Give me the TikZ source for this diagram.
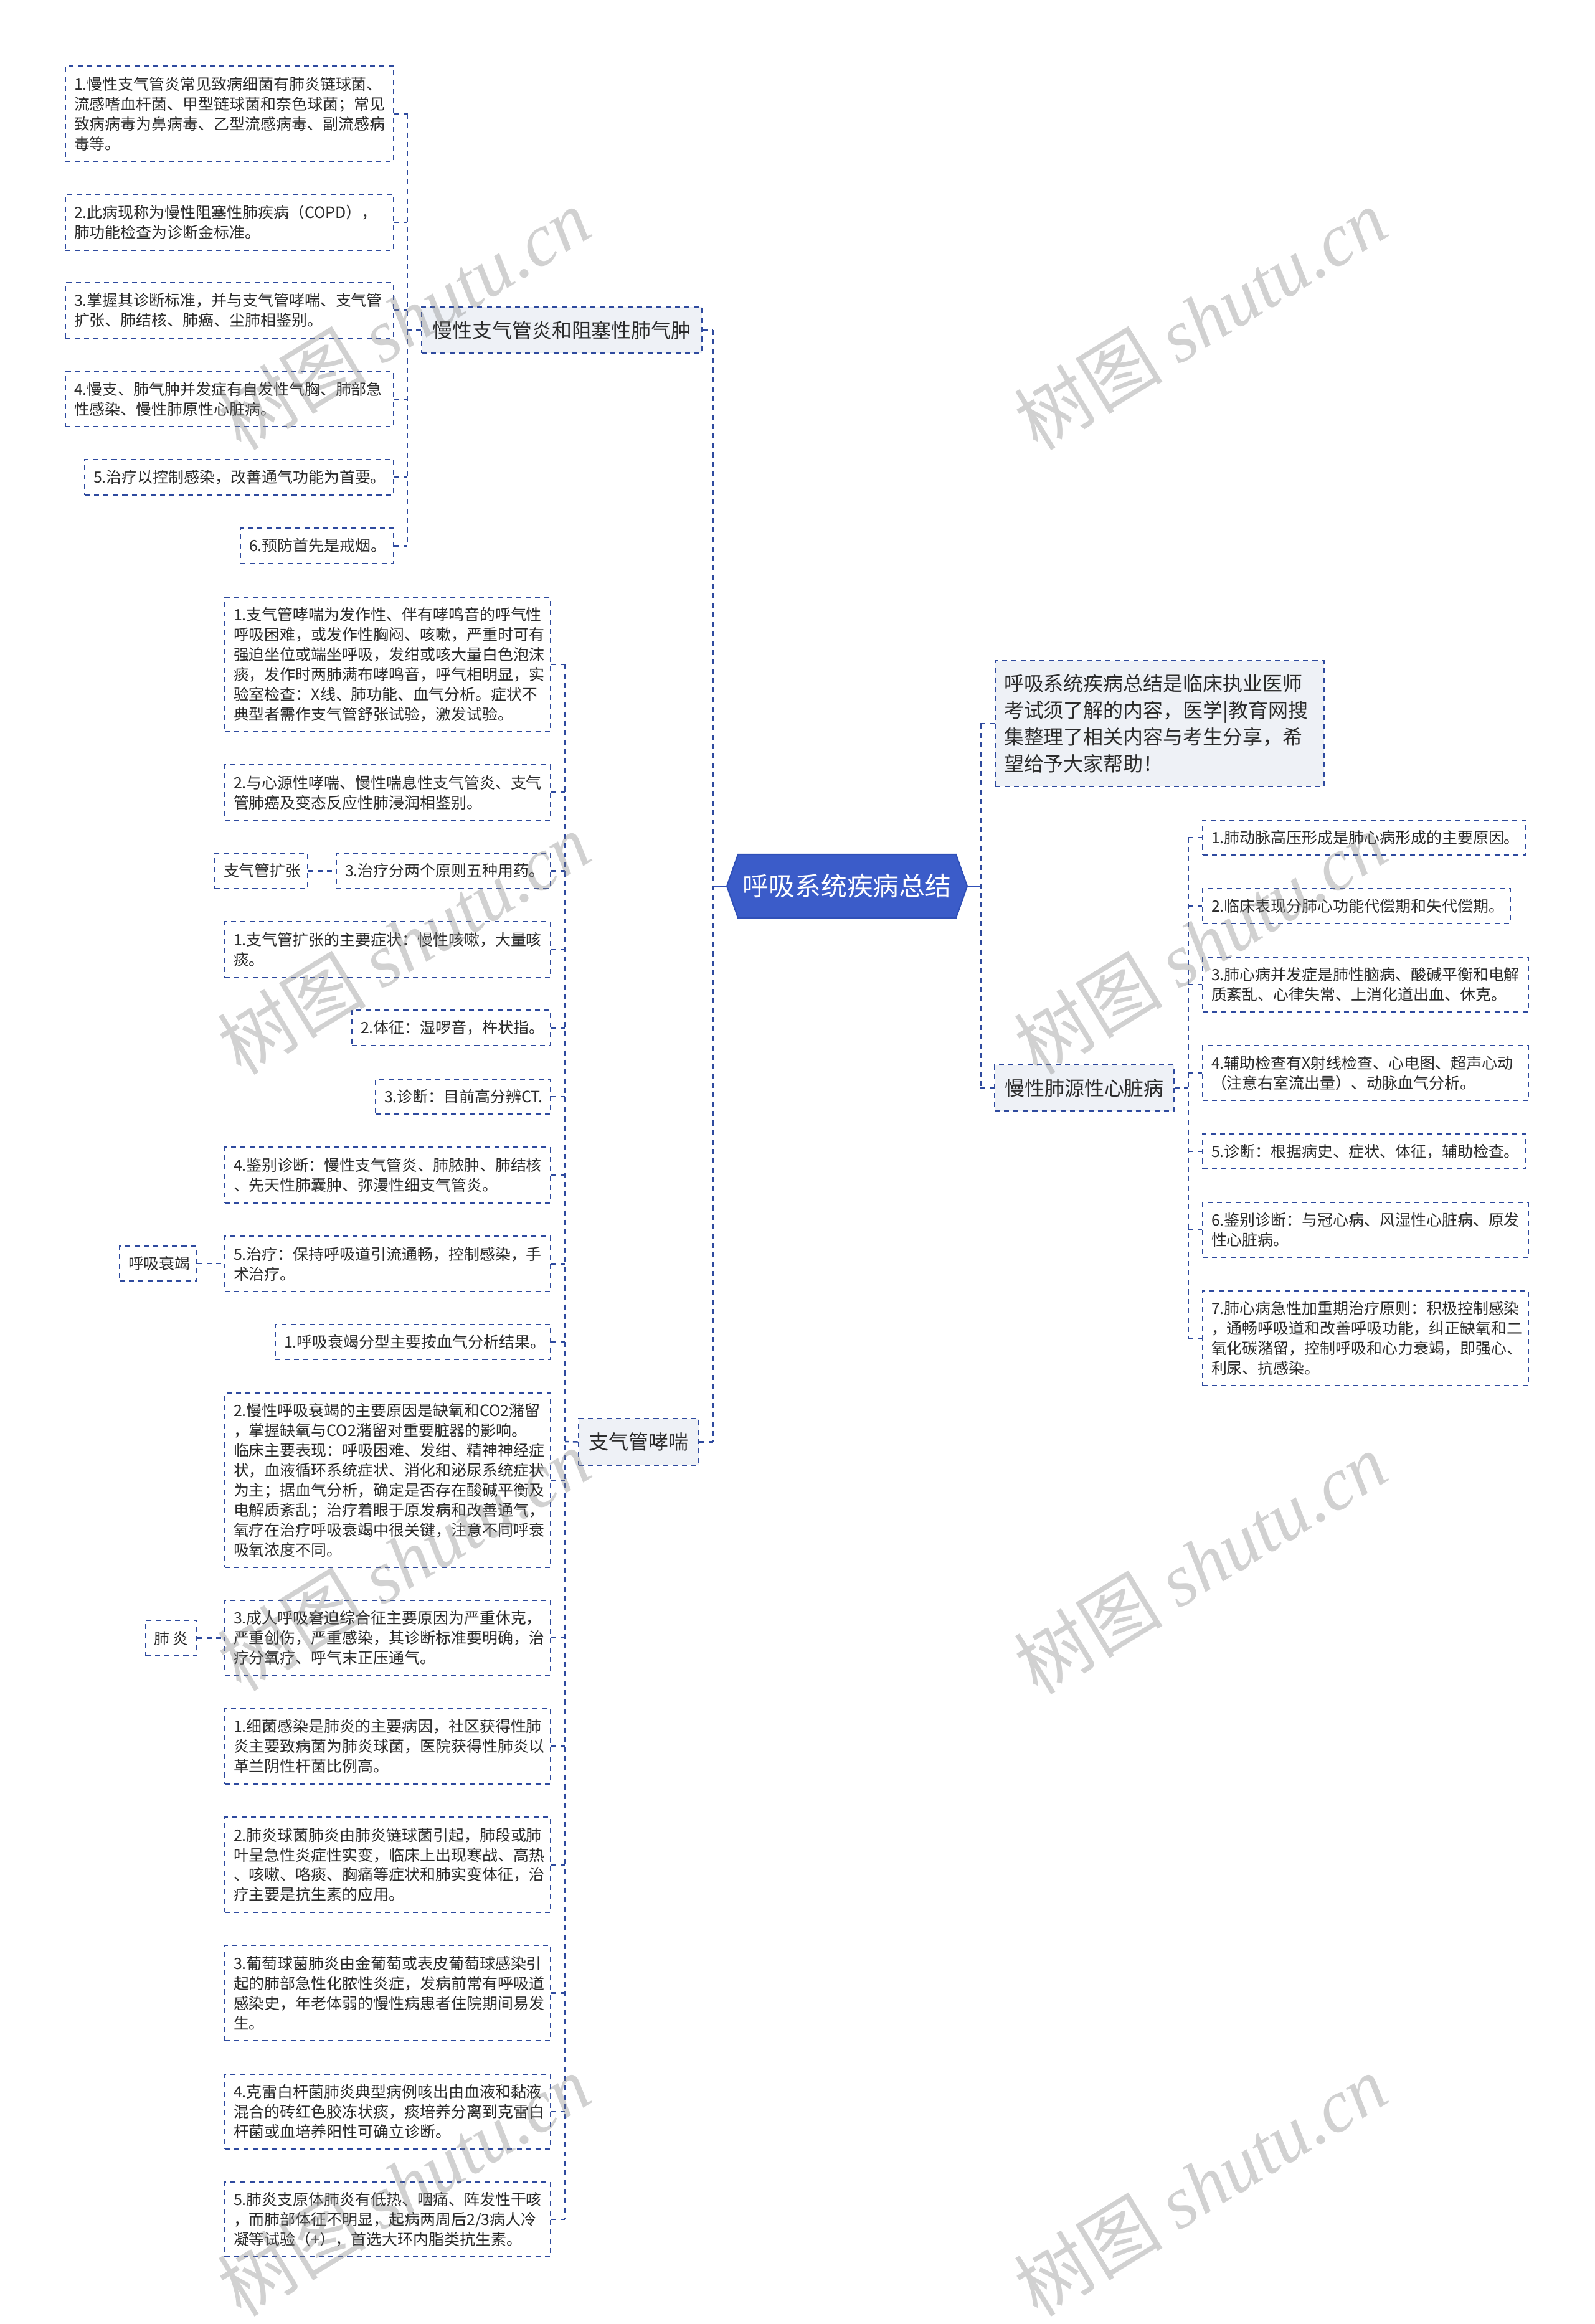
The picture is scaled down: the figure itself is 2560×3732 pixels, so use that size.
\documentclass[tikz,border=0pt]{standalone}
\usepackage{fontspec}
\newfontfamily\cjk{Noto Sans CJK SC}
\newfontfamily\wmserif{Liberation Serif}
\definecolor{ln}{HTML}{2E4A9E}
\definecolor{txt}{HTML}{2B2B2B}
\definecolor{lvl}{HTML}{EEF1F6}
\definecolor{rootfill}{HTML}{3B5CC9}
\definecolor{rootline}{HTML}{3050B8}
\tikzset{
  leaf/.style={draw=ln, dash pattern=on 2.3pt off 2pt, line width=0.55pt, align=left,
    inner xsep=1.4mm, inner ysep=0pt, text=txt, font=\cjk\fontsize{7.1pt}{9.1pt}\selectfont},
  leafc/.style={leaf, align=center},
  topic/.style={leaf, fill=lvl, align=center, font=\cjk\fontsize{9.1pt}{12.2pt}\selectfont},
  topicl/.style={topic, align=left},
  conn/.style={draw=ln, dash pattern=on 2.3pt off 2pt, line width=0.7pt},
  bus/.style={draw=ln, dash pattern=on 2.3pt off 2pt, line width=0.85pt},
  stub/.style={draw=rootline, line width=0.85pt},
  wm/.style={rotate=31.5, text=black!50, opacity=0.36, inner sep=0pt}
}
\newcommand\mybox[7]{%
  \pgfmathsetlengthmacro\myBW{(#5-#3)*0.1mm-2.8mm}%
  \pgfmathsetlengthmacro\myBH{(#6-#4)*0.1mm}%
  \node[#2,text width=\myBW,minimum height=\myBH] (#1) at ({(#3+#5)/2},{(#4+#6)/2}) {#7};}
\begin{document}
\begin{tikzpicture}[x=0.1mm,y=-0.1mm]
\fill[white] (0,0) rectangle (2560,3732);
\useasboundingbox (0,0) rectangle (2560,3732);

% ---------- root ----------
\fill[rootfill, draw=rootline, line width=0.6pt] (1167,1423) -- (1185,1372) -- (1535,1372) -- (1553,1423) -- (1535,1474) -- (1185,1474) -- cycle;
\node[minimum width=38.6mm, minimum height=10.2mm, inner sep=0pt, text=white,
  font=\cjk\fontsize{11.9pt}{14pt}\selectfont] (root) at (1360,1423) {呼吸系统疾病总结};

% ---------- group A ----------
\mybox{pA}{topic}{677}{493}{1127}{567}{慢性支气管炎和阻塞性肺气肿}
\mybox{a1}{leaf}{105}{106}{632}{259}{1.慢性支气管炎常见致病细菌有肺炎链球菌、\\流感嗜血杆菌、甲型链球菌和奈色球菌；常见\\致病病毒为鼻病毒、乙型流感病毒、副流感病\\毒等。}
\mybox{a2}{leaf}{105}{312}{632}{402}{2.此病现称为慢性阻塞性肺疾病（COPD），\\肺功能检查为诊断金标准。}
\mybox{a3}{leaf}{105}{454}{632}{543}{3.掌握其诊断标准，并与支气管哮喘、支气管\\扩张、肺结核、肺癌、尘肺相鉴别。}
\mybox{a4}{leaf}{105}{597}{632}{685}{4.慢支、肺气肿并发症有自发性气胸、肺部急\\性感染、慢性肺原性心脏病。}
\mybox{a5}{leaf}{136}{738}{632}{795}{5.治疗以控制感染，改善通气功能为首要。}
\mybox{a6}{leaf}{386}{848}{632}{905}{6.预防首先是戒烟。}

% ---------- group B ----------
\mybox{pB}{topic}{929}{2278}{1122}{2353}{支气管哮喘}
\mybox{b1}{leaf}{361}{959}{884}{1175}{1.支气管哮喘为发作性、伴有哮鸣音的呼气性\\呼吸困难，或发作性胸闷、咳嗽，严重时可有\\强迫坐位或端坐呼吸，发绀或咳大量白色泡沫\\痰，发作时两肺满布哮鸣音，呼气相明显，实\\验室检查：X线、肺功能、血气分析。症状不\\典型者需作支气管舒张试验，激发试验。}
\mybox{b2}{leaf}{361}{1228}{884}{1317}{2.与心源性哮喘、慢性喘息性支气管炎、支气\\管肺癌及变态反应性肺浸润相鉴别。}
\mybox{b3}{leaf}{540}{1370}{884}{1427}{3.治疗分两个原则五种用药。}
\mybox{bx}{leafc}{345}{1370}{494}{1427}{支气管扩张}
\mybox{b4}{leaf}{361}{1480}{884}{1570}{1.支气管扩张的主要症状：慢性咳嗽，大量咳\\痰。}
\mybox{b5}{leaf}{565}{1622}{884}{1679}{2.体征：湿啰音，杵状指。}
\mybox{b6}{leaf}{603}{1733}{884}{1789}{3.诊断：目前高分辨CT.}
\mybox{b7}{leaf}{361}{1842}{884}{1932}{4.鉴别诊断：慢性支气管炎、肺脓肿、肺结核\\、先天性肺囊肿、弥漫性细支气管炎。}
\mybox{b8}{leaf}{361}{1985}{884}{2074}{5.治疗：保持呼吸道引流通畅，控制感染，手\\术治疗。}
\mybox{hx}{leafc}{192}{2001}{316}{2057}{呼吸衰竭}
\mybox{b9}{leaf}{442}{2127}{884}{2183}{1.呼吸衰竭分型主要按血气分析结果。}
\mybox{b10}{leaf}{361}{2237}{884}{2517}{2.慢性呼吸衰竭的主要原因是缺氧和CO2潴留\\，掌握缺氧与CO2潴留对重要脏器的影响。\\临床主要表现：呼吸困难、发绀、精神神经症\\状，血液循环系统症状、消化和泌尿系统症状\\为主；据血气分析，确定是否存在酸碱平衡及\\电解质紊乱；治疗着眼于原发病和改善通气，\\氧疗在治疗呼吸衰竭中很关键，注意不同呼衰\\吸氧浓度不同。}
\mybox{b11}{leaf}{361}{2570}{884}{2690}{3.成人呼吸窘迫综合征主要原因为严重休克，\\严重创伤，严重感染，其诊断标准要明确，治\\疗分氧疗、呼气末正压通气。}
\node[leaf, align=center, inner xsep=0pt, minimum width=8.2mm, minimum height=5.7mm] (fy) at (275,2630.5) {\mbox{肺~炎}};
\mybox{b12}{leaf}{361}{2744}{884}{2865}{1.细菌感染是肺炎的主要病因，社区获得性肺\\炎主要致病菌为肺炎球菌，医院获得性肺炎以\\革兰阴性杆菌比例高。}
\mybox{b13}{leaf}{361}{2918}{884}{3071}{2.肺炎球菌肺炎由肺炎链球菌引起，肺段或肺\\叶呈急性炎症性实变，临床上出现寒战、高热\\、咳嗽、咯痰、胸痛等症状和肺实变体征，治\\疗主要是抗生素的应用。}
\mybox{b14}{leaf}{361}{3124}{884}{3277}{3.葡萄球菌肺炎由金葡萄或表皮葡萄球感染引\\起的肺部急性化脓性炎症，发病前常有呼吸道\\感染史，年老体弱的慢性病患者住院期间易发\\生。}
\mybox{b15}{leaf}{361}{3331}{884}{3451}{4.克雷白杆菌肺炎典型病例咳出由血液和黏液\\混合的砖红色胶冻状痰，痰培养分离到克雷白\\杆菌或血培养阳性可确立诊断。}
\mybox{b16}{leaf}{361}{3504}{884}{3624}{5.肺炎支原体肺炎有低热、咽痛、阵发性干咳\\，而肺部体征不明显，起病两周后2/3病人冷\\凝等试验（+），首选大环内脂类抗生素。}

% ---------- right side ----------
\mybox{intro}{topicl}{1598}{1061}{2126}{1263}{呼吸系统疾病总结是临床执业医师\\考试须了解的内容，医学|教育网搜\\集整理了相关内容与考生分享，希\\望给予大家帮助！}
\mybox{pC}{topic}{1597}{1710}{1885}{1784}{慢性肺源性心脏病}
\mybox{c1}{leaf}{1931}{1317}{2450}{1373}{1.肺动脉高压形成是肺心病形成的主要原因。}
\mybox{c2}{leaf}{1931}{1427}{2425}{1483}{2.临床表现分肺心功能代偿期和失代偿期。}
\mybox{c3}{leaf}{1931}{1537}{2454}{1625}{3.肺心病并发症是肺性脑病、酸碱平衡和电解\\质紊乱、心律失常、上消化道出血、休克。}
\mybox{c4}{leaf}{1931}{1679}{2454}{1767}{4.辅助检查有X射线检查、心电图、超声心动\\（注意右室流出量）、动脉血气分析。}
\mybox{c5}{leaf}{1931}{1821}{2450}{1877}{5.诊断：根据病史、症状、体征，辅助检查。}
\mybox{c6}{leaf}{1931}{1931}{2454}{2019}{6.鉴别诊断：与冠心病、风湿性心脏病、原发\\性心脏病。}
\mybox{c7}{leaf}{1931}{2073}{2454}{2225}{7.肺心病急性加重期治疗原则：积极控制感染\\，通畅呼吸道和改善呼吸功能，纠正缺氧和二\\氧化碳潴留，控制呼吸和心力衰竭，即强心、\\利尿、抗感染。}

% ---------- bus coordinates ----------
\coordinate (busL) at (1145,1423);
\coordinate (busR) at (1574,1423);
\coordinate (busA) at (654,530);
\coordinate (busB) at (907,2315);
\coordinate (busC) at (1908,1747);

% ---------- main connectors ----------
\draw[stub] (root.west) -- (busL);
\draw[stub] (root.east) -- (busR);
\draw[bus] (pA.east -| busL) -- (pB.east -| busL);
\draw[conn] (pA.east) -- (pA.east -| busL);
\draw[conn] (pB.east) -- (pB.east -| busL);
\draw[bus] (intro.west -| busR) -- (pC.west -| busR);
\draw[conn] (intro.west -| busR) -- (intro.west);
\draw[conn] (pC.west -| busR) -- (pC.west);

% ---------- group A connectors ----------
\draw[conn] (pA.west) -- (busA);
\draw[conn] (a1.east -| busA) -- (a6.east -| busA);
\foreach \n in {a1,a2,a3,a4,a5,a6} \draw[conn] (\n.east) -- (\n.east -| busA);

% ---------- group B connectors ----------
\draw[conn] (pB.west) -- (busB);
\draw[conn] (b1.east -| busB) -- (b16.east -| busB);
\foreach \n in {b1,b2,b3,b4,b5,b6,b7,b8,b9,b10,b11,b12,b13,b14,b15,b16} \draw[conn] (\n.east) -- (\n.east -| busB);
\draw[conn] (bx.east) -- (b3.west);
\draw[conn] (hx.east) -- (b8.west |- hx.east);
\draw[conn] (fy.east) -- (b11.west |- fy.east);

% ---------- group C connectors ----------
\draw[conn] (pC.east) -- (busC);
\draw[conn] (c1.west -| busC) -- (c7.west -| busC);
\foreach \n in {c1,c2,c3,c4,c5,c6,c7} \draw[conn] (\n.west -| busC) -- (\n.west);

% ---------- watermarks ----------
\foreach \wx/\wy/\k in {648/512/1,1927/512/2,648/1515/3,1927/1515/4,648/2505/5,1927/2510/6,648/3509/7,1927/3509/8}
  \node[wm] (wm\k) at (\wx,\wy) {\fontsize{34pt}{36pt}\selectfont\cjk 树图 {\wmserif\itshape shutu.cn}};
\end{tikzpicture}
\end{document}
